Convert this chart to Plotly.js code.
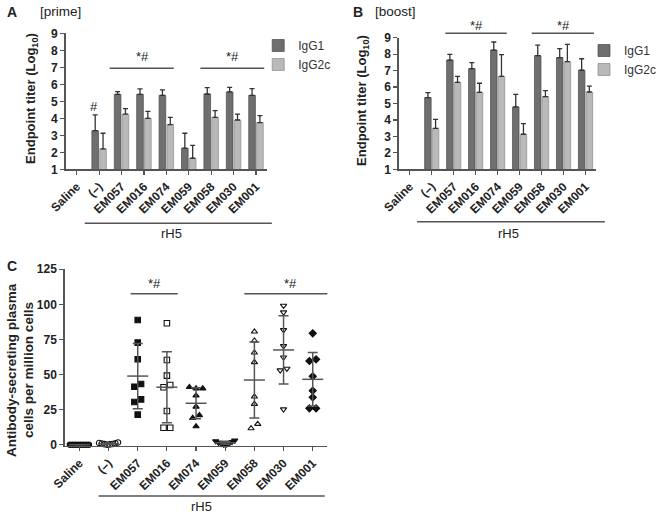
<!DOCTYPE html>
<html><head><meta charset="utf-8">
<script src="https://cdn.plot.ly/plotly-3.0.1.min.js"></script>
<style>html,body{margin:0;padding:0;background:#fff}#chart{width:662px;height:515px}</style>
</head><body><div id="chart"></div>
<script>
// ---------- data ----------
const categories = ['Saline','(–)','EM057','EM016','EM074','EM059','EM058','EM030','EM001'];
const seriesNames = ['IgG1','IgG2c'];
// Panel A: prime (log10 endpoint titer, mean and upper SEM)
const primeIgG1     = [null,3.27,5.41,5.41,5.35,2.24,5.43,5.55,5.35];
const primeIgG1Err  = [null,0.93,0.16,0.32,0.32,0.88,0.37,0.27,0.40];
const primeIgG2c    = [null,2.20,4.24,4.00,3.63,1.65,4.06,3.90,3.75];
const primeIgG2cErr = [null,0.92,0.33,0.41,0.43,0.76,0.39,0.34,0.41];
// Panel B: boost
const boostIgG1     = [null,5.36,7.64,7.12,8.25,4.79,7.91,7.79,7.02];
const boostIgG1Err  = [null,0.30,0.35,0.36,0.49,0.77,0.64,0.54,0.70];
const boostIgG2c    = [null,3.49,6.29,5.68,6.65,3.13,5.42,7.54,5.70];
const boostIgG2cErr = [null,0.55,0.36,0.55,1.32,0.65,0.36,1.06,0.36];
// Panel C: antibody-secreting plasma cells per million cells (individual animals)
const ascSaline = [0,0,0,0,0,0,0,0];
const ascNeg    = [0,0.2,0.4,0.5,0.8,1.0,1.2,1.6];
const ascEM057  = [88.8,72.7,60.8,43.2,41.3,32.3,30.4,21.4];
const ascEM016  = [86.5,60.3,49.2,42.5,40.9,24.0,12.1,12.1];
const ascEM074  = [41,40,40,35,27,21,19,13];
const ascEM059  = [0,0.3,0.6,1.0,1.5,2.0,2.5,3.0];
const ascEM058  = [80.5,74.1,65.6,58.7,34.2,29.0,14.7,11.6];
const ascEM030  = [99.0,94.3,81.7,70.3,62.2,54.2,53.0,25.2];
const ascEM001  = [79.3,60.8,59.6,48.7,38.5,33.7,25.9,25.9];
const ascGroups = [ascSaline,ascNeg,ascEM057,ascEM016,ascEM074,ascEM059,ascEM058,ascEM030,ascEM001];
const ascSymbols = ['circle','circle-open','square','square-open','triangle-up','triangle-down','triangle-up-open','triangle-down-open','diamond'];
const yTicksAB = [1,2,3,4,5,6,7,8,9];
const yTicksC = [0,25,50,75,100,125];

// ---------- layout helpers ----------
const W = 662, H = 515;
const px = v => v / W;
const py = v => 1 - v / H;
const FONT = 'Liberation Sans, Arial, sans-serif';
const TXT = '#222';
const AX = '#555';

const domA = {x:[px(65.7), px(268)], y:[py(169.3), py(33.3)]};
const domB = {x:[px(400), px(598.3)], y:[py(169.3), py(37.7)]};
const domC = {x:[px(65), px(328.3)], y:[py(445.8), py(269.2)]};
const xRange = [-0.5, 8.5];
const cRange = [-0.8, 125];

function axisStyle(extra) {
  return Object.assign({
    showline:true, linecolor:AX, linewidth:1.5, ticks:'outside', ticklen:4,
    tickcolor:AX, tickwidth:1.2, showgrid:false, zeroline:false, fixedrange:true,
    tickfont:{family:FONT, size:12, color:TXT, weight:'bold'}
  }, extra);
}

const traces = [];
function barPair(v1, e1, v2, e2, xa, ya, legend) {
  traces.push({
    type:'bar', x:categories, y:v1, name:seriesNames[0], xaxis:xa, yaxis:ya, legend:legend,
    marker:{color:'#6f6f6f', line:{color:'#4a4a4a', width:0.7}},
    error_y:{type:'data', symmetric:false, array:e1, arrayminus:e1.map(v=>v==null?null:0),
             color:'#333', thickness:1.3, width:2.5}
  });
  traces.push({
    type:'bar', x:categories, y:v2, name:seriesNames[1], xaxis:xa, yaxis:ya, legend:legend,
    marker:{color:'#b9b9b9', line:{color:'#8a8a8a', width:0.7}},
    error_y:{type:'data', symmetric:false, array:e2, arrayminus:e2.map(v=>v==null?null:0),
             color:'#333', thickness:1.3, width:2.5}
  });
}
barPair(primeIgG1, primeIgG1Err, primeIgG2c, primeIgG2cErr, 'x', 'y', 'legend');
barPair(boostIgG1, boostIgG1Err, boostIgG2c, boostIgG2cErr, 'x2', 'y2', 'legend2');

// ---------- panel C: scatter dot plot with mean ± SD ----------
const pxPerUnitY = (domC.y[1]-domC.y[0]) * H / (cRange[1]-cRange[0]);
const unitPerPxX = (xRange[1]-xRange[0]) / ((domC.x[1]-domC.x[0]) * W);
const D = 6.5, STEP = 6.7, MAXOFF = 9.5;
function swarmOffsets(vals) {
  const idx = vals.map((v,i)=>i).sort((a,b)=>vals[a]-vals[b]);
  const clusters = [];
  let cur = [];
  idx.forEach((i,k) => {
    if (k>0 && (vals[i]-vals[idx[k-1]])*pxPerUnitY >= D) { clusters.push(cur); cur = []; }
    cur.push(i);
  });
  if (cur.length) clusters.push(cur);
  const off = new Array(vals.length).fill(0);
  let maxAbs = 0;
  clusters.forEach(c => {
    // alternate left/right placement around the centre for a compact swarm
    const order = c.map((i,j)=>j).sort((a,b)=>Math.abs(a-(c.length-1)/2)-Math.abs(b-(c.length-1)/2));
    c.forEach((i,j) => {
      const slot = (j % 2 === 0 ? -1 : 1) * Math.ceil(j/2);
      off[i] = (c.length % 2 === 0 ? (j%2===0 ? -(Math.floor(j/2)+0.5) : (Math.floor(j/2)+0.5)) : slot) * STEP;
      maxAbs = Math.max(maxAbs, Math.abs(off[i]));
    });
  });
  const scale = maxAbs > MAXOFF ? MAXOFF/maxAbs : 1;
  return off.map(o => o*scale*unitPerPxX);
}
const means = [], sds = [];
ascGroups.forEach((vals, g) => {
  const offs = swarmOffsets(vals);
  traces.push({
    type:'scatter', mode:'markers', x:vals.map((v,i)=>g+offs[i]), y:vals,
    xaxis:'x3', yaxis:'y3', showlegend:false, cliponaxis:false,
    marker:{symbol:ascSymbols[g], size:5.5, color:'#111', line:{color:'#111', width:1.1}}
  });
  const m = vals.reduce((a,b)=>a+b,0)/vals.length;
  const sd = Math.sqrt(vals.reduce((a,b)=>a+(b-m)*(b-m),0)/(vals.length-1));
  means.push(m); sds.push(sd);
});
traces.push({
  type:'scatter', mode:'markers', x:categories.map((c,i)=>i), y:means,
  xaxis:'x3', yaxis:'y3', showlegend:false, cliponaxis:false,
  marker:{symbol:'line-ew', size:15, color:'#555', line:{color:'#555', width:1.5}},
  error_y:{type:'data', array:sds, color:'#555', thickness:1.5, width:5}
});

// ---------- decorations ----------
const annotations = [];
const shapes = [];
function txt(x, y, text, size, opts) {
  annotations.push(Object.assign({xref:'paper', yref:'paper', x:px(x), y:py(y), text:text,
    showarrow:false, xanchor:'center', yanchor:'middle',
    font:{family:FONT, size:size, color:TXT}}, opts||{}));
}
function hline(x0, x1, y) {
  shapes.push({type:'line', xref:'paper', yref:'paper', x0:px(x0), x1:px(x1), y0:py(y), y1:py(y),
    line:{color:AX, width:1.5}});
}
// panel letters and headers
txt(12, 12, '<b>A</b>', 14);
txt(61, 12, '[prime]', 13.5);
txt(359, 12, '<b>B</b>', 14);
txt(397, 12, '[boost]', 13.5);
txt(12, 266, '<b>C</b>', 14);
// y-axis titles
txt(32, 98, '<b>Endpoint titer (Log<sub>10</sub>)</b>', 13, {textangle:-90});
txt(363, 100, '<b>Endpoint titer (Log<sub>10</sub>)</b>', 13, {textangle:-90});
txt(11, 370, '<b>Antibody-secreting plasma</b>', 13.5, {textangle:-90});
txt(28, 370, '<b>cells per million cells</b>', 13.5, {textangle:-90});
// rH5 brackets
hline(85, 272.7, 223.3); txt(171.7, 233, 'rH5', 13);
hline(418.3, 606.7, 221.7); txt(510, 233.3, 'rH5', 13);
hline(99, 325.7, 496); txt(201.7, 506, 'rH5', 13);
// significance bars
hline(110, 174.3, 68.3); txt(143, 56.5, '*#', 13);
hline(201, 265, 68.3); txt(233, 56.5, '*#', 13);
txt(94, 106.5, '#', 13);
hline(446.7, 508.3, 33.3); txt(478.3, 25.5, '*#', 13);
hline(533.3, 595.7, 33.3); txt(565, 25.5, '*#', 13);
hline(131, 178.3, 293.7); txt(155, 283, '*#', 13);
hline(245, 328.3, 293.7); txt(291.7, 283, '*#', 13);

const legendStyle = {xanchor:'left', yanchor:'top', bgcolor:'rgba(0,0,0,0)',
  font:{family:FONT, size:12, color:'#333'}, tracegroupgap:0};

const layout = {
  width:W, height:H, margin:{l:0, r:0, t:0, b:0},
  paper_bgcolor:'#fff', plot_bgcolor:'rgba(0,0,0,0)',
  font:{family:FONT, color:TXT},
  barmode:'group', bargap:0.3, bargroupgap:0.15,
  xaxis: axisStyle({domain:domA.x, anchor:'y', type:'category', range:xRange, tickangle:-45}),
  yaxis: axisStyle({domain:domA.y, anchor:'x', range:[1,9], tickvals:yTicksAB}),
  xaxis2: axisStyle({domain:domB.x, anchor:'y2', type:'category', range:xRange, tickangle:-45}),
  yaxis2: axisStyle({domain:domB.y, anchor:'x2', range:[1,9], tickvals:yTicksAB}),
  xaxis3: axisStyle({domain:domC.x, anchor:'y3', range:xRange, tickangle:-45,
    tickvals:categories.map((c,i)=>i), ticktext:categories}),
  yaxis3: axisStyle({domain:domC.y, anchor:'x3', range:cRange, tickvals:yTicksC}),
  legend: Object.assign({x:px(259), y:py(31)}, legendStyle),
  legend2: Object.assign({x:px(586), y:py(36)}, legendStyle),
  annotations:annotations, shapes:shapes
};
Plotly.newPlot('chart', traces, layout, {displayModeBar:false, staticPlot:true});
</script></body></html>
